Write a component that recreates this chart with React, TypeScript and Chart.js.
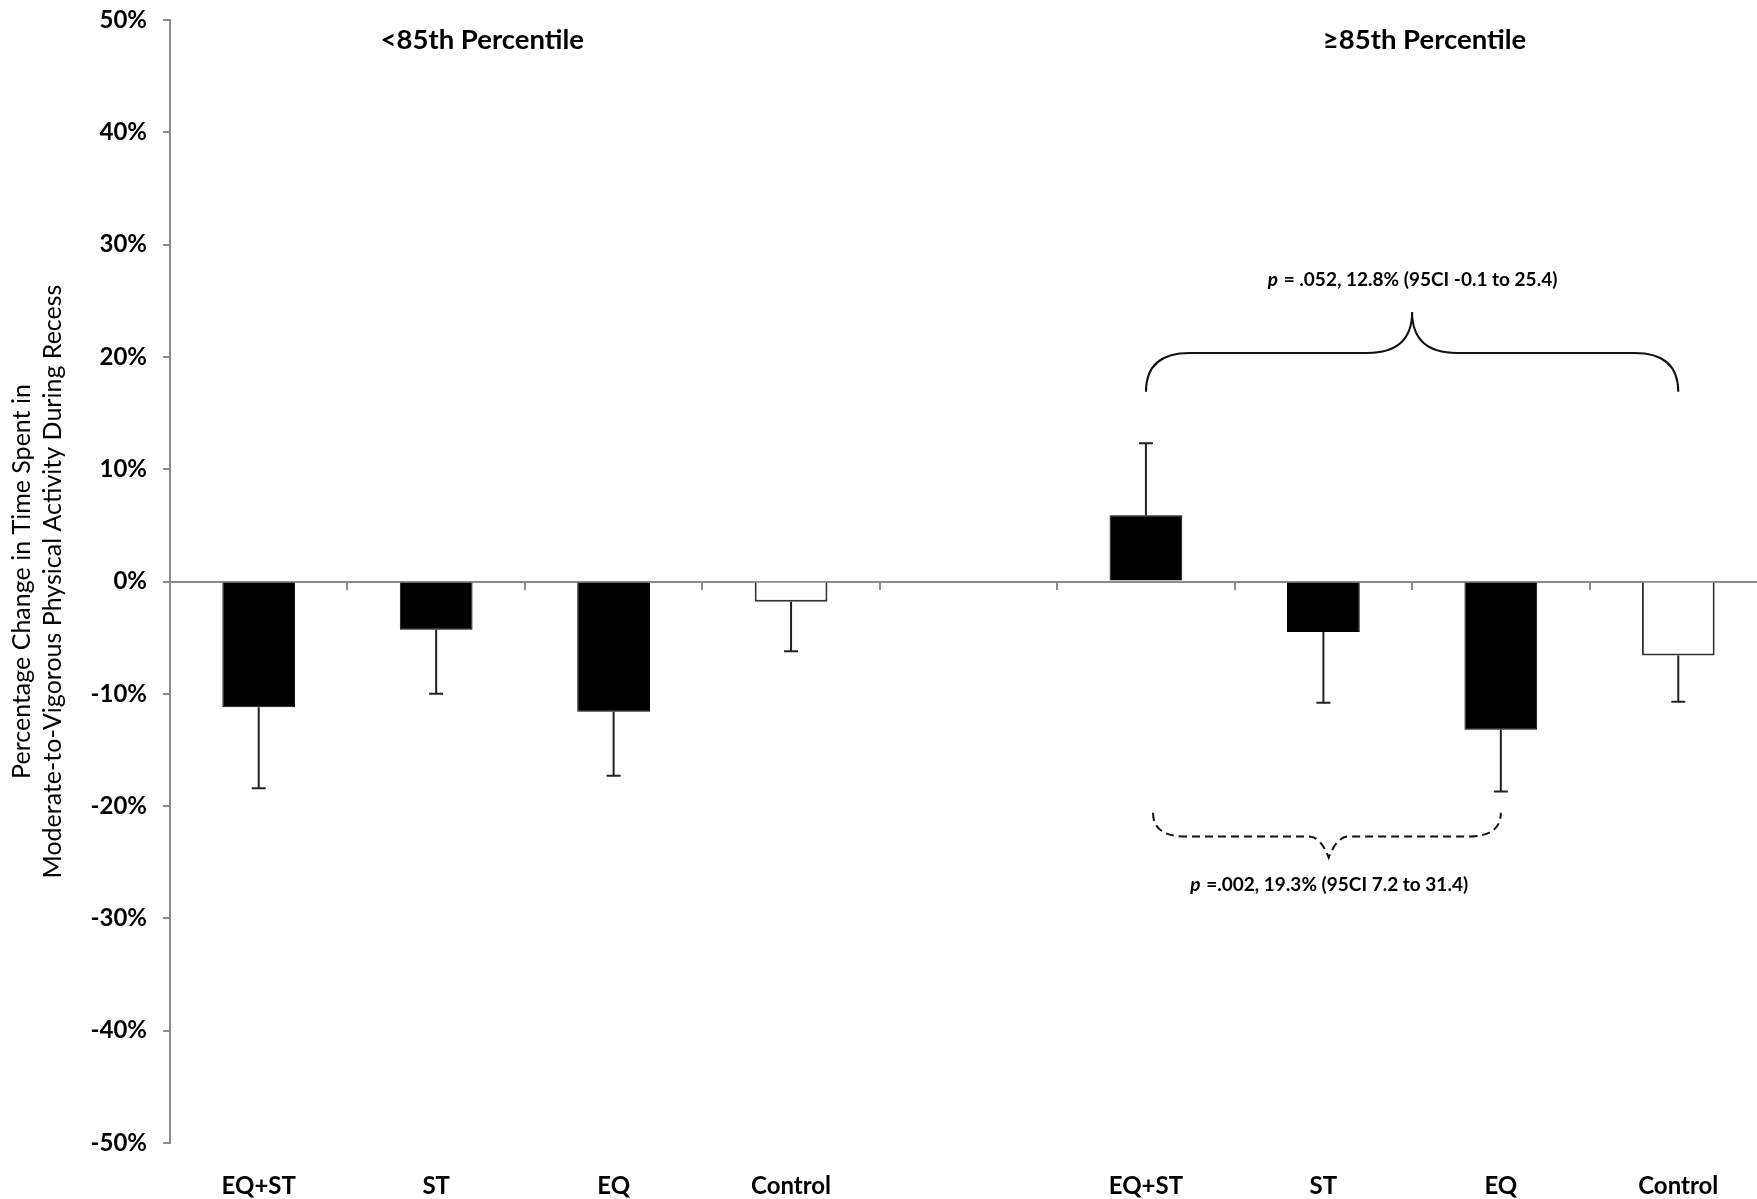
import { useEffect, useRef } from 'react';
import { Chart, registerables } from 'chart.js';

Chart.register(...registerables);

// ---------- data ----------
const categories = ['EQ+ST', 'ST', 'EQ', 'Control', '', 'EQ+ST', 'ST', 'EQ', 'Control'];
const changeValues: (number | null)[] = [-11.2, -4.3, -11.6, -1.8, null, 5.9, -4.5, -13.2, -6.6];
const errorValues: (number | null)[] = [7.2, 5.7, 5.7, 4.4, null, 6.4, 6.3, 5.5, 4.1];
const isControl = [false, false, false, true, false, false, false, false, true];
const yMin = -50;
const yMax = 50;
const yStep = 10;
const groupLabels = ['<85th Percentile', '\u226585th Percentile'];
const axisTitle = ['Percentage Change in Time Spent in', 'Moderate-to-Vigorous Physical Activity During Recess'];
const upperNote = { italic: 'p', rest: ' = .052, 12.8% (95CI -0.1 to 25.4)' };
const lowerNote = { italic: 'p', rest: ' =.002, 19.3% (95CI 7.2 to 31.4)' };

// ---------- annotation anchors (category index / y value) ----------
const groupLabelAnchors = [
  { x: 1.26, y: 48.2 },
  { x: 6.57, y: 48.2 },
];
const upperBrace = { from: 5, to: 8, mid: 6.5, end: 16.9, bar: 20.35, tip: 24.0, textY: 26.9 };
const lowerBrace = { from: 5.04, to: 7.0, mid: 6.03, end: -20.6, bar: -22.7, tip: -24.6, textY: -27.0 };

const FONT = 'Lato';
const AXIS_GRAY = '#8c8c8c';

function drawBrace(
  ctx: CanvasRenderingContext2D,
  xL: number, xR: number, xC: number,
  yEnd: number, yBar: number, yTip: number,
  rEnd: number, rMid: number, tipCtrl: number
) {
  ctx.beginPath();
  ctx.moveTo(xL, yEnd);
  ctx.quadraticCurveTo(xL, yBar, xL + rEnd, yBar);
  ctx.lineTo(xC - rMid, yBar);
  ctx.quadraticCurveTo(xC - tipCtrl, yBar, xC, yTip);
  ctx.quadraticCurveTo(xC + tipCtrl, yBar, xC + rMid, yBar);
  ctx.lineTo(xR - rEnd, yBar);
  ctx.quadraticCurveTo(xR, yBar, xR, yEnd);
  ctx.stroke();
}

function drawNote(ctx: CanvasRenderingContext2D, note: { italic: string; rest: string }, cx: number, cy: number, size: number) {
  ctx.font = `italic bold ${size}px ${FONT}`;
  const w1 = ctx.measureText(note.italic).width;
  ctx.font = `bold ${size}px ${FONT}`;
  const w2 = ctx.measureText(note.rest).width;
  const x0 = cx - (w1 + w2) / 2;
  ctx.textAlign = 'left';
  ctx.textBaseline = 'middle';
  ctx.fillStyle = '#000';
  ctx.font = `italic bold ${size}px ${FONT}`;
  ctx.fillText(note.italic, x0, cy);
  ctx.font = `bold ${size}px ${FONT}`;
  ctx.fillText(note.rest, x0 + w1 + 1, cy);
}

const annotationPlugin = {
  id: 'annotations',
  afterDatasetsDraw(chart: any) {
    const ctx: CanvasRenderingContext2D = chart.ctx;
    const xs = chart.scales.x;
    const ys = chart.scales.y;
    ctx.save();

    // error bars (one-sided, away from zero)
    ctx.strokeStyle = '#222';
    ctx.lineWidth = 2;
    ctx.setLineDash([]);
    changeValues.forEach((v, i) => {
      const e = errorValues[i];
      if (v === null || e === null) return;
      const x = xs.getPixelForValue(i);
      const y0 = ys.getPixelForValue(v);
      const y1 = ys.getPixelForValue(v >= 0 ? v + e : v - e);
      ctx.beginPath();
      ctx.moveTo(x, y0);
      ctx.lineTo(x, y1);
      ctx.moveTo(x - 7, y1);
      ctx.lineTo(x + 7, y1);
      ctx.stroke();
    });

    // group labels
    ctx.fillStyle = '#000';
    ctx.font = `bold 27.5px ${FONT}`;
    ctx.textAlign = 'center';
    ctx.textBaseline = 'middle';
    groupLabels.forEach((t, i) => {
      const a = groupLabelAnchors[i];
      ctx.fillText(t, xs.getPixelForValue(a.x), ys.getPixelForValue(a.y));
    });

    // upper brace (solid)
    ctx.strokeStyle = '#111';
    ctx.lineWidth = 2;
    drawBrace(
      ctx,
      xs.getPixelForValue(upperBrace.from), xs.getPixelForValue(upperBrace.to), xs.getPixelForValue(upperBrace.mid),
      ys.getPixelForValue(upperBrace.end), ys.getPixelForValue(upperBrace.bar), ys.getPixelForValue(upperBrace.tip),
      44, 45, 0
    );
    drawNote(ctx, upperNote, xs.getPixelForValue(upperBrace.mid), ys.getPixelForValue(upperBrace.textY), 19);

    // lower brace (dashed)
    ctx.setLineDash([8, 5]);
    drawBrace(
      ctx,
      xs.getPixelForValue(lowerBrace.from), xs.getPixelForValue(lowerBrace.to), xs.getPixelForValue(lowerBrace.mid),
      ys.getPixelForValue(lowerBrace.end), ys.getPixelForValue(lowerBrace.bar), ys.getPixelForValue(lowerBrace.tip),
      32, 20, 8
    );
    ctx.setLineDash([]);
    drawNote(ctx, lowerNote, xs.getPixelForValue(lowerBrace.mid), ys.getPixelForValue(lowerBrace.textY), 19);

    ctx.restore();
  },
};

export default function App() {
  const canvasRef = useRef<HTMLCanvasElement | null>(null);

  useEffect(() => {
    document.body.style.margin = '0';
    const canvas = canvasRef.current;
    if (!canvas) return;
    const chart = new Chart(canvas, {
      type: 'bar',
      data: {
        labels: categories,
        datasets: [
          {
            data: changeValues as any,
            backgroundColor: isControl.map((c) => (c ? '#ffffff' : '#000000')),
            borderColor: isControl.map((c) => (c ? '#333333' : '#000000')),
            borderWidth: isControl.map((c) => (c ? 2 : 1)),
            barPercentage: 0.41,
            categoryPercentage: 1,
          },
        ],
      },
      options: {
        responsive: false,
        animation: false,
        devicePixelRatio: 1,
        layout: { padding: { top: 20, right: 0, bottom: 0, left: 0 } },
        plugins: {
          legend: { display: false },
          tooltip: { enabled: false },
        },
        scales: {
          x: {
            type: 'category',
            position: 'bottom',
            grid: { display: false, drawTicks: false },
            border: { display: false },
            ticks: {
              font: { family: FONT, size: 24, weight: 'bold' },
              color: '#000',
              padding: 29,
              maxRotation: 0,
              autoSkip: false,
            },
            afterFit: (s: any) => {
              s.height = 56;
              s.paddingLeft = 0;
              s.paddingRight = 0;
            },
          },
          x2: {
            type: 'category',
            position: { y: 0 },
            offset: true,
            grid: {
              display: true,
              drawOnChartArea: false,
              drawTicks: true,
              tickLength: 7,
              offset: true,
              color: AXIS_GRAY,
              lineWidth: 2,
            },
            border: { display: true, color: AXIS_GRAY, width: 2 },
            ticks: { display: false },
          },
          y: {
            min: yMin,
            max: yMax,
            ticks: {
              stepSize: yStep,
              callback: (v: any) => `${v}%`,
              font: { family: FONT, size: 24, weight: 'bold' },
              color: '#000',
              padding: 16,
            },
            grid: {
              drawOnChartArea: false,
              drawTicks: true,
              tickLength: 7,
              color: AXIS_GRAY,
              lineWidth: 2,
            },
            border: { display: true, color: AXIS_GRAY, width: 2 },
            title: {
              display: true,
              text: axisTitle,
              font: { family: FONT, size: 25, lineHeight: 1.26 },
              color: '#000',
              padding: { top: 6, bottom: 0 },
            },
            afterFit: (s: any) => {
              s.width = 170;
              s.paddingTop = 0;
              s.paddingBottom = 0;
            },
          },
        } as any,
      },
      plugins: [annotationPlugin],
    });
    return () => chart.destroy();
  }, []);

  return (
    <div style={{ width: 1757, height: 1199, overflow: 'hidden', background: '#fff' }}>
      <canvas ref={canvasRef} width={1767} height={1199} style={{ display: 'block', width: 1767, height: 1199 }} />
    </div>
  );
}
